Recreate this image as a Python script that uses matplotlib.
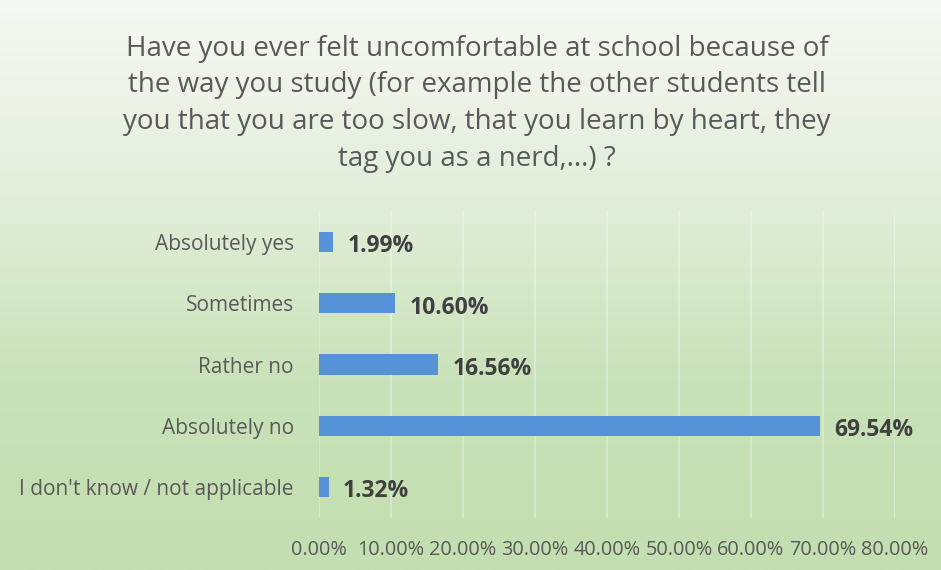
import matplotlib
matplotlib.use("Agg")
import matplotlib.pyplot as plt
import numpy as np
from matplotlib.colors import LinearSegmentedColormap

categories = ["Absolutely yes", "Sometimes", "Rather no", "Absolutely no",
              "I don't know / not applicable"]
values = [1.99, 10.60, 16.56, 69.54, 1.32]
value_labels = ["1.99%", "10.60%", "16.56%", "69.54%", "1.32%"]
xticks = [0, 10, 20, 30, 40, 50, 60, 70, 80]
xtick_labels = ["0.00%", "10.00%", "20.00%", "30.00%", "40.00%",
                "50.00%", "60.00%", "70.00%", "80.00%"]
title = ("Have you ever felt uncomfortable at school because of\n"
         "the way you study (for example the other students tell\n"
         "you that you are too slow, that you learn by heart, they\n"
         "tag you as a nerd,...) ?")

font = ["Open Sans", "DejaVu Sans"]
plt.rcParams['font.family'] = font

fig = plt.figure(figsize=(9.41, 5.70), dpi=100)

# background gradient
bg = fig.add_axes([0, 0, 1, 1], zorder=-10)
cmap = LinearSegmentedColormap.from_list("g", ["#f6f8f3", "#e3eedb", "#c9e2b9", "#c3deb0"])
grad = np.linspace(0, 1, 256).reshape(-1, 1)
bg.imshow(grad, aspect="auto", cmap=cmap, extent=[0, 1, 0, 1], origin="upper")
bg.axis("off")

ax = fig.add_axes([0.339, 0.092, 0.612, 0.537])
ax.patch.set_alpha(0)
y = np.arange(len(categories))
ax.barh(y, values, height=0.33, color="#5592d8", zorder=3)
ax.set_ylim(len(categories) - 0.5, -0.5)
ax.set_xlim(0, 80)
ax.set_xticks(xticks)
ax.set_xticklabels(xtick_labels, fontsize=14.3, color="#595959")
ax.set_yticks(y)
ax.set_yticklabels(categories, fontsize=15, color="#595959")
ax.tick_params(length=0, pad=18, axis="y")
ax.tick_params(length=0, pad=16, axis="x")
ax.grid(axis="x", color="white", alpha=0.35, linewidth=1.2, zorder=0)
for s in ax.spines.values():
    s.set_visible(False)

for yi, v, lab in zip(y, values, value_labels):
    ax.text(v + 2.0, yi + 0.07, lab, va="center", ha="left", fontsize=16.5,
            fontweight="bold", color="#404040")

fig.text(0.507, 0.818, title, ha="center", va="center", fontsize=20,
         color="#595959", linespacing=1.42)

fig.savefig("out.png", dpi=100)
